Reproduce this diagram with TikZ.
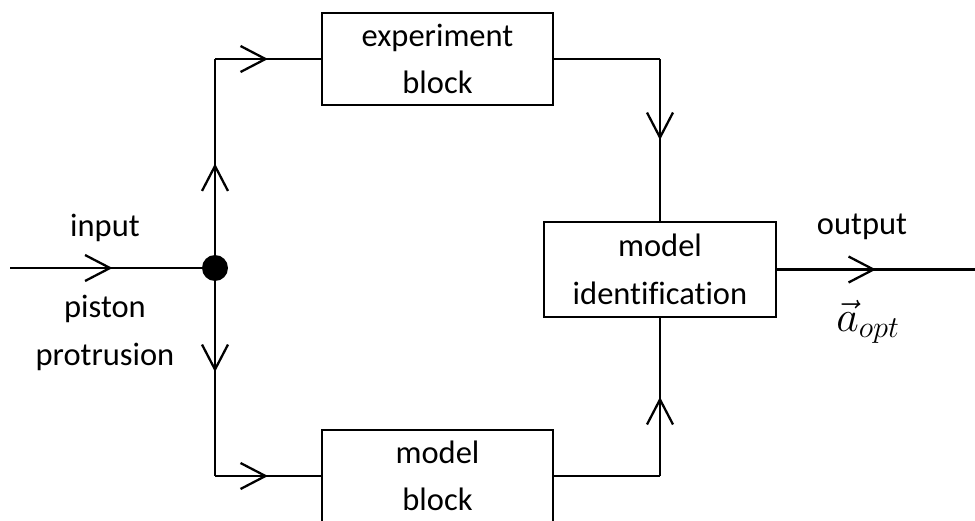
\documentclass[tikz,border=0pt]{standalone}
\usepackage{fontspec}
\setmainfont{Carlito}[Ligatures=NoCommon]
\usetikzlibrary{arrows.meta,decorations.markings}

\tikzset{
  block/.style={draw,line width=1.2pt,minimum width=4.62cm,minimum height=1.84cm,align=center,font=\fontsize{18.5}{27}\selectfont},
  flow/.style={line width=1.3pt,postaction={decorate},decoration={markings,mark=at position .5 with {\arrow{Straight Barb[length=0.5cm,width=0.52cm,line width=1.3pt]}}}},
  wire/.style={line width=1.3pt},
  tag/.style={align=center,font=\fontsize{18.5}{27}\selectfont}
}

\begin{document}
\begin{tikzpicture}[x=0.02cm,y=-0.02cm]
	\useasboundingbox (0,0) rectangle (975,521);
	\clip (0,0) rectangle (975,521);
	% blocks
	\node [block] (exp) at (437.5,59) {experiment\\block};
	\node [block,minimum width=4.64cm,minimum height=1.9cm] (ident) at (660,269.5) {model\\identification};
	\node [block] (mod) at (437.5,476) {model\\block};
	\node [circle,fill=black,inner sep=0pt,minimum size=0.52cm] (split) at (215,268) {};
	% corners and free ends
	\coordinate (in) at (10,268);
	\coordinate (out) at (975,269.5);
	\coordinate (up) at (split |- exp.west);
	\coordinate (down) at (split |- mod.west);
	\coordinate (ur) at (exp.east -| ident.north);
	\coordinate (lr) at (mod.east -| ident.south);
	% connectors
	\draw [flow] (in) -- (split.center);
	\draw [flow] (split.center) -- (up);
	\draw [flow] (up) -- (exp.west);
	\draw [wire] (exp.east) -- (ur);
	\draw [flow] (ur) -- (ident.north);
	\draw [flow] (split.center) -- (down);
	\draw [flow] (down) -- (mod.west);
	\draw [wire] (mod.east) -- (lr);
	\draw [flow] (lr) -- (ident.south);
	\draw [flow] (ident.east) -- (out);
	% labels
	\node [tag] (inlbl) at (105,228) {input};
	\node [tag] (piston) at (105,333) {piston\\protrusion};
	\node [tag] (outlbl) at (862,227) {output};
	\node [tag,font=\fontsize{23}{27}\selectfont] (aopt) at (868,322) {$\vec{a}_{opt}$};
\end{tikzpicture}
\end{document}
